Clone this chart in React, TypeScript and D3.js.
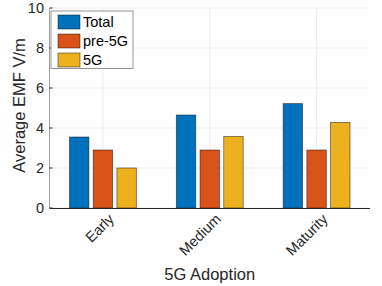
import React from "react";
import * as d3 from "d3";

const categories = ["Early", "Medium", "Maturity"];
const seriesNames = ["Total", "pre-5G", "5G"];
const total = [3.55, 4.65, 5.22];
const pre5G = [2.9, 2.9, 2.9];
const fiveG = [2.0, 3.58, 4.28];
const yTicks = [0, 2, 4, 6, 8, 10];
const colors = ["#0072BD", "#D95319", "#EDB120"];

const W = 382;
const H = 286;
const margin = { top: 8, right: 12, bottom: 78, left: 49.5 };

const App: React.FC = () => {
  const series = [total, pre5G, fiveG];
  const innerW = W - margin.left - margin.right;
  const innerH = H - margin.top - margin.bottom;

  const x = d3.scaleLinear().domain([0.5, categories.length + 0.5]).range([0, innerW]);
  const y = d3.scaleLinear().domain([0, 10]).range([innerH, 0]);

  // grouped bar offsets in category units
  const step = 0.222;
  const barW = 0.182;
  const font = "'Liberation Sans', Arial, Helvetica, sans-serif";

  return (
    <svg width={W} height={H} style={{ position: "absolute", left: 0, top: 0, background: "#fff" }}>
      <g transform={`translate(${margin.left},${margin.top})`}>
        {/* grid */}
        {yTicks.map((t) => (
          <line key={"gy" + t} x1={0} x2={innerW} y1={y(t)} y2={y(t)} stroke="#ebebeb" strokeWidth={1} />
        ))}
        {categories.map((c, i) => (
          <line key={"gx" + c} x1={x(i + 1)} x2={x(i + 1)} y1={0} y2={innerH} stroke="#ebebeb" strokeWidth={1} />
        ))}

        {/* bars */}
        {series.map((vals, s) =>
          vals.map((v, i) => {
            const cx = x(i + 1 + (s - 1) * step);
            const w = x(barW) - x(0);
            return (
              <rect
                key={`b${s}-${i}`}
                x={cx - w / 2}
                y={y(v)}
                width={w}
                height={y(0) - y(v)}
                fill={colors[s]}
                stroke="#000"
                strokeOpacity={0.55}
                strokeWidth={0.8}
              />
            );
          })
        )}

        {/* axes */}
        <line x1={0} x2={0} y1={0} y2={innerH} stroke="#a0a0a0" strokeWidth={1} />
        <line x1={0} x2={innerW} y1={innerH + 0.5} y2={innerH + 0.5} stroke="#262626" strokeWidth={1} />
        {yTicks.map((t) => (
          <g key={"ty" + t}>
            <line x1={0} x2={3} y1={y(t)} y2={y(t)} stroke="#262626" strokeWidth={1} />
            <text x={-5.5} y={y(t)} dy="0.35em" textAnchor="end" fontSize={14.5} fontFamily={font} fill="#262626">
              {t}
            </text>
          </g>
        ))}
        {categories.map((c, i) => (
          <text
            key={"tx" + c}
            transform={`translate(${x(i + 1) + 12},${innerH + 12}) rotate(-45)`}
            textAnchor="end"
            fontSize={14.5}
            fontFamily={font}
            fill="#262626"
          >
            {c}
          </text>
        ))}

        {/* axis titles */}
        <text
          transform={`translate(-24.5,${innerH / 2 - 2.5}) rotate(-90)`}
          textAnchor="middle"
          fontSize={16.5}
          fontFamily={font}
          fill="#262626"
        >
          Average EMF V/m
        </text>
        <text x={x(2)} y={innerH + 72} textAnchor="middle" fontSize={16.5} fontFamily={font} fill="#262626">
          5G Adoption
        </text>

        {/* legend */}
        <g transform="translate(1.5,3)">
          <rect x={0} y={0} width={82} height={57.5} fill="#fff" stroke="#7a7a7a" strokeWidth={0.8} />
          {seriesNames.map((n, s) => (
            <g key={n} transform={`translate(7,${4 + s * 19})`}>
              <rect x={0} y={0} width={22} height={14} fill={colors[s]} stroke="#000" strokeOpacity={0.55} strokeWidth={0.8} />
              <text x={25} y={7} dy="0.36em" fontSize={14.5} fontFamily={font} fill="#000">
                {n}
              </text>
            </g>
          ))}
        </g>
      </g>
    </svg>
  );
};

export default App;
